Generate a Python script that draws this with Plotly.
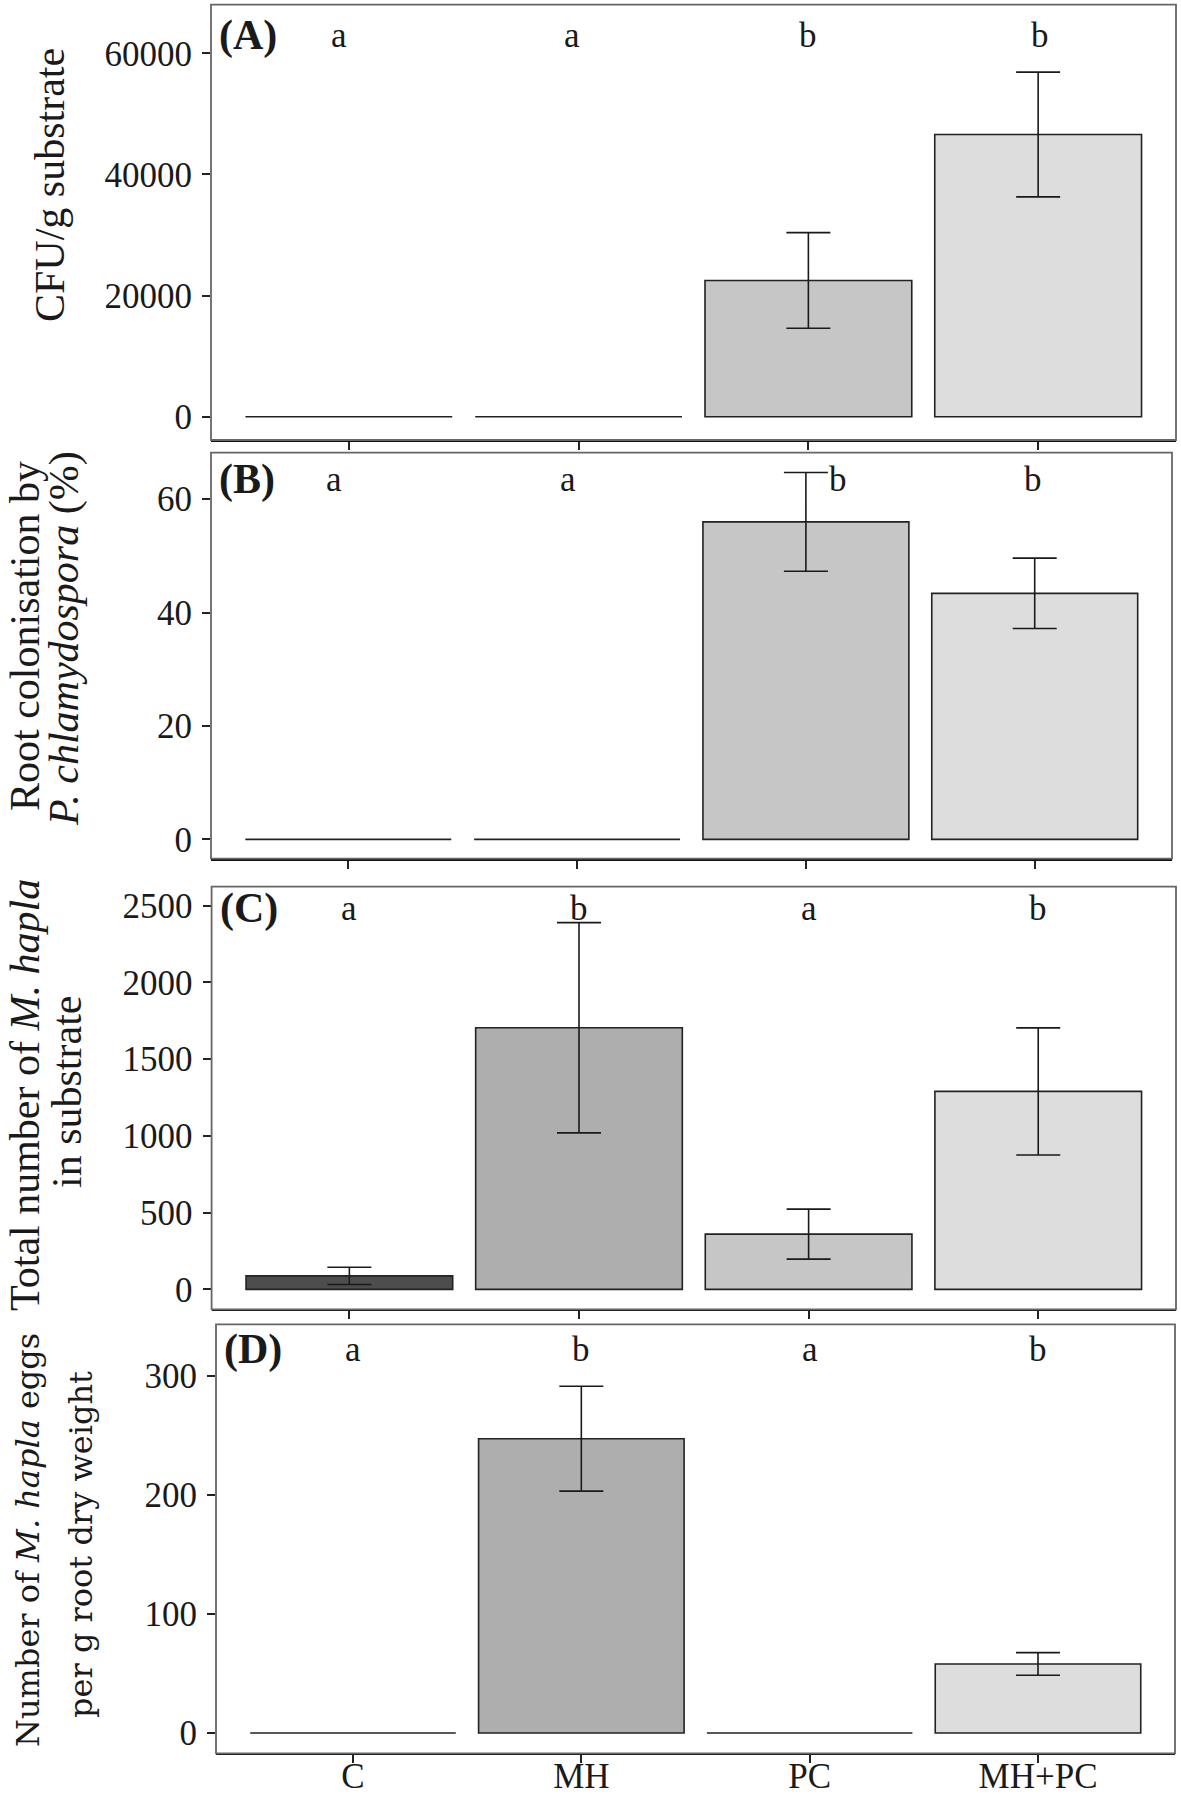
import plotly.graph_objects as go

W, H = 1181, 1805

categories = ["C", "MH", "PC", "MH+PC"]
bar_colors = ["#4d4d4d", "#aeaeae", "#c6c6c6", "#dddddd"]

cfu_mean = [0, 0, 22500, 46600]
cfu_se = [0, 0, 7900, 10300]
cfu_letters = ["a", "a", "b", "b"]

root_mean = [0, 0, 56.0, 43.4]
root_se = [0, 0, 8.7, 6.2]
root_letters = ["a", "a", "b", "b"]

nema_mean = [88, 1705, 360, 1290]
nema_se = [56, 685, 163, 414]
nema_letters = ["a", "b", "a", "b"]

eggs_mean = [0, 247, 0, 58]
eggs_se = [0, 44, 0, 9.5]
eggs_letters = ["a", "b", "a", "b"]

panels = [
    dict(tag="(A)", mean=cfu_mean, se=cfu_se, letters=cfu_letters,
         ticks=[0, 20000, 40000, 60000], letter_y=62870, rng=[-3850, 68040],
         px=(211, 1176, 4.7, 440), letter_shift=[-10, -7, 0, 2],
         titles=[("CFU/g substrate", 50, 185, "Liberation Serif", 42)]),
    dict(tag="(B)", mean=root_mean, se=root_se, letters=root_letters,
         ticks=[0, 20, 40, 60], letter_y=63.4, rng=[-3.4, 68.2],
         px=(211, 1172, 452.7, 858.7), letter_shift=[-14, -9, 32, -2],
         titles=[("Root colonisation by", 25, 636, "Liberation Serif", 42),
                 ("<i>P. chlamydospora</i> (%)", 64, 639, "Liberation Serif", 42)]),
    dict(tag="(C)", mean=nema_mean, se=nema_se, letters=nema_letters,
         ticks=[0, 500, 1000, 1500, 2000, 2500], letter_y=2479, rng=[-130, 2624],
         px=(211.6, 1176, 886.7, 1309.3), letter_shift=[0, 0, 0, 0],
         titles=[("Total number of <i>M. hapla</i>", 25, 1095, "Liberation Serif", 42),
                 ("in substrate", 67, 1092, "Liberation Serif", 42)]),
    dict(tag="(D)", mean=eggs_mean, se=eggs_se, letters=eggs_letters,
         ticks=[0, 100, 200, 300], letter_y=322, rng=[-17, 343],
         px=(216, 1175, 1324.3, 1753.3), letter_shift=[0, 0, 0, 0],
         titles=[("Number of <i>M. hapla</i> eggs", 28, 1540, "DejaVu Serif", 32),
                 ("per g root dry weight", 81, 1545, "DejaVu Serif", 32)]),
]

FONT = "Liberation Serif"
fig = go.Figure()
layout = dict(width=W, height=H, margin=dict(l=0, r=0, t=0, b=0),
              plot_bgcolor="white", paper_bgcolor="white", showlegend=False,
              bargap=0.1, font=dict(family=FONT, size=34, color="#1a1a1a"))
annotations = []
shapes = []

for i, p in enumerate(panels):
    n = "" if i == 0 else str(i + 1)
    xa, ya = "x" + n, "y" + n
    x0, x1, y0, y1 = p["px"]
    fig.add_trace(go.Bar(
        x=categories, y=p["mean"], xaxis=xa, yaxis=ya,
        marker=dict(color=bar_colors, line=dict(color="#222222", width=1.6)),
        width=0.9, hoverinfo="skip"))
    keep = [k for k, s in enumerate(p["se"]) if s > 0]
    fig.add_trace(go.Scatter(
        x=[categories[k] for k in keep], y=[p["mean"][k] for k in keep],
        xaxis=xa, yaxis=ya, mode="markers",
        marker=dict(size=1, opacity=0),
        error_y=dict(type="data", array=[p["se"][k] for k in keep], visible=True,
                     color="#1a1a1a", thickness=1.6, width=22),
        hoverinfo="skip"))
    last = i == len(panels) - 1
    layout["xaxis" + n] = dict(
        domain=[x0 / W, x1 / W], anchor=ya, type="category",
        categoryorder="array", categoryarray=categories,
        range=[-0.6, 3.6], showgrid=False, zeroline=False,
        showline=True, linecolor="#111111", linewidth=2.2,
        ticks="outside", ticklen=8, tickwidth=2, tickcolor="#222222",
        ticklabelstandoff=-17,
        showticklabels=last, tickfont=dict(family=FONT, size=35, color="#1a1a1a"))
    layout["yaxis" + n] = dict(
        domain=[1 - y1 / H, 1 - y0 / H], anchor=xa, range=p["rng"],
        tickmode="array", tickvals=p["ticks"], ticktext=[str(t) for t in p["ticks"]],
        showgrid=False, zeroline=False, showline=False,
        ticks="outside", ticklen=8, tickwidth=2, tickcolor="#222222",
        ticklabelstandoff=3,
        tickfont=dict(family=FONT, size=35, color="#1a1a1a"))
    shapes.append(dict(type="rect", xref=xa + " domain", yref=ya + " domain",
                       x0=0, x1=1, y0=0, y1=1,
                       line=dict(color="#666666", width=1.8), layer="above"))
    for c, letter, sh in zip(categories, p["letters"], p["letter_shift"]):
        annotations.append(dict(x=c, y=p["letter_y"], xref=xa, yref=ya,
                                text=letter, showarrow=False, xshift=sh,
                                font=dict(family=FONT, size=35, color="#1a1a1a")))
    annotations.append(dict(x=(x0 + 6) / W, y=p["letter_y"], xref="paper", yref=ya,
                            xanchor="left", text="<b>" + p["tag"] + "</b>",
                            showarrow=False,
                            font=dict(family=FONT, size=42, color="#1a1a1a")))
    for text, tx, ty, fam, fs in p["titles"]:
        annotations.append(dict(x=tx / W, y=1 - ty / H, xref="paper", yref="paper",
                                text=text, textangle=-90, showarrow=False,
                                xanchor="center", yanchor="middle",
                                font=dict(family=fam, size=fs, color="#1a1a1a")))

layout["annotations"] = annotations
layout["shapes"] = shapes
fig.update_layout(**layout)
fig.write_html("out.html", config={"displayModeBar": False},
               post_script="document.body.style.margin='0';document.body.style.padding='0';")
